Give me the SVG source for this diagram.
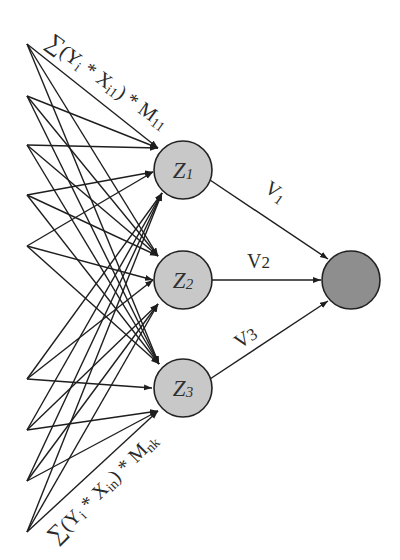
<svg xmlns="http://www.w3.org/2000/svg" width="400" height="560" viewBox="0 0 400 560">
<style>
.e{stroke:#1e1e1e;stroke-width:1.4;fill:none;marker-end:url(#ah)}
.z{fill:#c8c8c8;stroke:#222;stroke-width:1.6}
.o{fill:#8e8e8e;stroke:#222;stroke-width:1.6}
.t{font-family:"Liberation Serif","DejaVu Serif",serif;fill:#2a2a2a}
.zl{font-family:"Liberation Serif","DejaVu Serif",serif;font-style:italic;font-size:23px;fill:#303030;text-anchor:middle}
</style>
<defs>
<marker id="ah" markerUnits="userSpaceOnUse" markerWidth="9" markerHeight="7" refX="8" refY="3" orient="auto">
<path d="M0,0 L8,3 L0,6 z" fill="#1e1e1e"/>
</marker>
</defs>
<g id="connectors">
<line class="e" x1="27" y1="44" x2="158" y2="148"/>
<line class="e" x1="27" y1="96" x2="158" y2="148"/>
<line class="e" x1="27" y1="145" x2="158" y2="148"/>
<line class="e" x1="27" y1="195" x2="153" y2="172"/>
<line class="e" x1="27" y1="246" x2="153" y2="172"/>
<line class="e" x1="27" y1="379" x2="162" y2="193"/>
<line class="e" x1="27" y1="430" x2="162" y2="193"/>
<line class="e" x1="27" y1="481" x2="162" y2="193"/>
<line class="e" x1="27" y1="532" x2="162" y2="193"/>
<line class="e" x1="27" y1="44" x2="158" y2="256"/>
<line class="e" x1="27" y1="96" x2="158" y2="256"/>
<line class="e" x1="27" y1="145" x2="158" y2="256"/>
<line class="e" x1="27" y1="195" x2="158" y2="256"/>
<line class="e" x1="27" y1="246" x2="153" y2="280"/>
<line class="e" x1="27" y1="379" x2="153" y2="280"/>
<line class="e" x1="27" y1="430" x2="158" y2="304"/>
<line class="e" x1="27" y1="481" x2="158" y2="304"/>
<line class="e" x1="27" y1="532" x2="158" y2="304"/>
<line class="e" x1="27" y1="44" x2="159" y2="364"/>
<line class="e" x1="27" y1="96" x2="159" y2="364"/>
<line class="e" x1="27" y1="145" x2="159" y2="364"/>
<line class="e" x1="27" y1="195" x2="159" y2="364"/>
<line class="e" x1="27" y1="246" x2="159" y2="364"/>
<line class="e" x1="27" y1="379" x2="152" y2="388"/>
<line class="e" x1="27" y1="430" x2="158" y2="411"/>
<line class="e" x1="27" y1="481" x2="158" y2="411"/>
<line class="e" x1="27" y1="532" x2="158" y2="411"/>
<line class="e" x1="210" y1="180" x2="328" y2="259"/>
<line class="e" x1="212" y1="280" x2="321" y2="280"/>
<line class="e" x1="210" y1="379" x2="328" y2="301"/>
</g>
<g id="z1"><circle class="z" cx="183" cy="170" r="29"/><text class="zl" x="183" y="178">Z<tspan font-size="15" dy="1">1</tspan></text></g>
<g id="z2"><circle class="z" cx="183" cy="280" r="29"/><text class="zl" x="183" y="288">Z<tspan font-size="15" dy="1">2</tspan></text></g>
<g id="z3"><circle class="z" cx="183" cy="388" r="29"/><text class="zl" x="183" y="396">Z<tspan font-size="15" dy="1">3</tspan></text></g>
<g id="out"><circle class="o" cx="351" cy="280" r="29"/></g>
<g id="labels">
<text class="t" font-size="20" transform="translate(272,197) rotate(35)" text-anchor="middle">V<tspan font-size="14" dy="3">1</tspan></text>
<text class="t" font-size="20" x="247" y="268">V<tspan font-size="17">2</tspan></text>
<text class="t" font-size="20" transform="translate(249,343) rotate(-33)" text-anchor="middle">V<tspan font-size="17">3</tspan></text>
<text class="t" font-size="20" transform="translate(45,45) rotate(36)"><tspan font-size="23">∑</tspan>(Y<tspan font-size="14" dy="3">i</tspan><tspan dy="-3"> * X</tspan><tspan font-size="14" dy="3">i1</tspan><tspan dy="-3">) * M</tspan><tspan font-size="14" dy="3">11</tspan></text>
<text class="t" font-size="20" transform="translate(56,544) rotate(-45)"><tspan font-size="23">∑</tspan>(Y<tspan font-size="14" dy="3">i</tspan><tspan dy="-3"> * X</tspan><tspan font-size="14" dy="3">in</tspan><tspan dy="-3">) * M</tspan><tspan font-size="14" dy="3">nk</tspan></text>
</g>
</svg>
